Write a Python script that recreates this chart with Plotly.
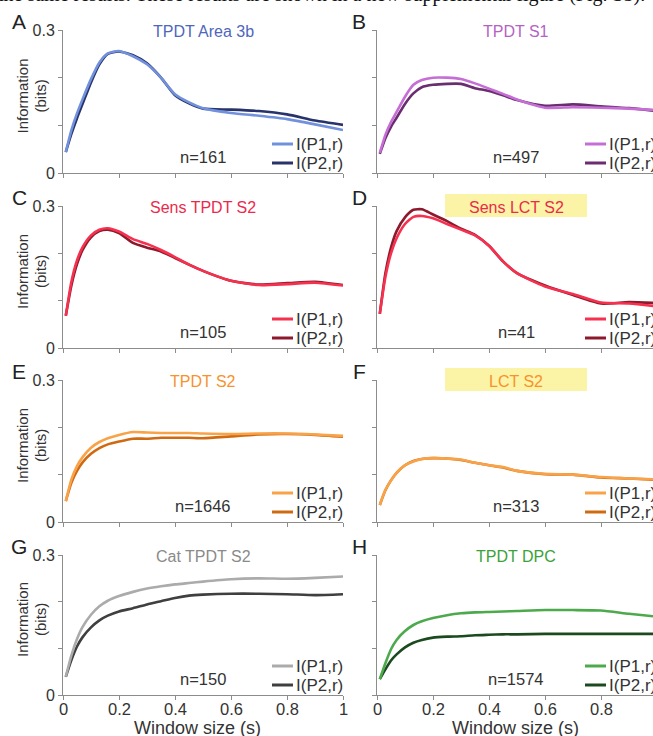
import plotly.graph_objects as go

W, H = 653, 736

# ---------------- data ----------------
window_s = [0.01, 0.03, 0.05, 0.07, 0.1, 0.13, 0.16, 0.2, 0.25, 0.3, 0.35, 0.4,
            0.45, 0.5, 0.6, 0.7, 0.8, 0.9, 1.0]

a_p1 = [0.044, 0.090, 0.125, 0.155, 0.197, 0.232, 0.251, 0.256, 0.245, 0.228, 0.200, 0.165,
        0.148, 0.136, 0.126, 0.120, 0.113, 0.102, 0.090]
a_p2 = [0.044, 0.082, 0.115, 0.145, 0.190, 0.228, 0.250, 0.255, 0.247, 0.230, 0.200, 0.163,
        0.146, 0.135, 0.133, 0.130, 0.123, 0.110, 0.101]

b_p1 = [0.042, 0.080, 0.107, 0.128, 0.160, 0.185, 0.195, 0.200, 0.200, 0.197, 0.188, 0.177,
        0.166, 0.154, 0.137, 0.138, 0.137, 0.135, 0.132]
b_p2 = [0.040, 0.073, 0.097, 0.116, 0.145, 0.167, 0.180, 0.185, 0.187, 0.187, 0.178, 0.172,
        0.163, 0.153, 0.141, 0.144, 0.140, 0.136, 0.130]

c_p1 = [0.068, 0.140, 0.185, 0.213, 0.238, 0.250, 0.253, 0.246, 0.230, 0.220, 0.207, 0.192,
        0.176, 0.163, 0.142, 0.133, 0.135, 0.138, 0.132]
c_p2 = [0.068, 0.132, 0.177, 0.207, 0.234, 0.247, 0.250, 0.243, 0.222, 0.212, 0.204, 0.190,
        0.176, 0.163, 0.142, 0.134, 0.137, 0.140, 0.133]

d_p1 = [0.072, 0.150, 0.200, 0.232, 0.262, 0.277, 0.279, 0.274, 0.262, 0.250, 0.238, 0.216,
        0.183, 0.158, 0.130, 0.114, 0.096, 0.094, 0.088]
d_p2 = [0.072, 0.158, 0.212, 0.247, 0.276, 0.292, 0.293, 0.282, 0.268, 0.252, 0.239, 0.216,
        0.183, 0.158, 0.132, 0.112, 0.094, 0.097, 0.095]

e_p1 = [0.044, 0.090, 0.118, 0.137, 0.157, 0.169, 0.177, 0.184, 0.190, 0.189, 0.188, 0.188,
        0.188, 0.187, 0.186, 0.187, 0.187, 0.185, 0.182]
e_p2 = [0.044, 0.083, 0.108, 0.126, 0.144, 0.156, 0.164, 0.170, 0.176, 0.176, 0.178, 0.178,
        0.178, 0.177, 0.181, 0.185, 0.186, 0.184, 0.180]

f_p1 = [0.036, 0.068, 0.088, 0.104, 0.120, 0.128, 0.133, 0.135, 0.134, 0.132, 0.125, 0.120,
        0.116, 0.108, 0.102, 0.100, 0.095, 0.092, 0.090]
f_p2 = [0.036, 0.067, 0.088, 0.104, 0.120, 0.129, 0.133, 0.135, 0.134, 0.131, 0.125, 0.120,
        0.115, 0.108, 0.101, 0.100, 0.094, 0.092, 0.089]

g_p1 = [0.039, 0.085, 0.120, 0.146, 0.172, 0.190, 0.202, 0.212, 0.221, 0.228, 0.233, 0.237,
        0.240, 0.243, 0.248, 0.250, 0.249, 0.251, 0.254]
g_p2 = [0.039, 0.075, 0.104, 0.124, 0.145, 0.160, 0.170, 0.179, 0.186, 0.194, 0.201, 0.208,
        0.213, 0.215, 0.217, 0.217, 0.216, 0.214, 0.216]

h_p1 = [0.034, 0.068, 0.098, 0.118, 0.137, 0.150, 0.158, 0.165, 0.171, 0.175, 0.177, 0.178,
        0.179, 0.180, 0.182, 0.182, 0.181, 0.174, 0.168]
h_p2 = [0.034, 0.055, 0.074, 0.087, 0.102, 0.112, 0.118, 0.123, 0.125, 0.126, 0.128, 0.129,
        0.130, 0.130, 0.131, 0.131, 0.131, 0.131, 0.131]

panel_letters = ["A", "B", "C", "D", "E", "F", "G", "H"]
panel_titles = ["TPDT Area 3b", "TPDT S1", "Sens TPDT S2", "Sens LCT S2",
                "TPDT S2", "LCT S2", "Cat TPDT S2", "TPDT DPC"]
panel_n = ["n=161", "n=497", "n=105", "n=41", "n=1646", "n=313", "n=150", "n=1574"]
series_p1 = [a_p1, b_p1, c_p1, d_p1, e_p1, f_p1, g_p1, h_p1]
series_p2 = [a_p2, b_p2, c_p2, d_p2, e_p2, f_p2, g_p2, h_p2]
legend_labels = ["I(P1,r)", "I(P2,r)"]
x_tick_vals = [0, 0.2, 0.4, 0.6, 0.8, 1.0]
x_tick_text = ["0", "0.2", "0.4", "0.6", "0.8", "1"]
y_tick_vals = [0, 0.1, 0.2, 0.3]
y_tick_text = ["0", "", "", "0.3"]
x_title = "Window size (s)"
y_title_lines = ["Information", "(bits)"]
top_text = "the same results. These results are shown in a new supplemental figure (Fig. S5)."

# ---------------- styles ----------------
title_colors = ["#4f66bd", "#b462c6", "#ea2a4c", "#ea2a4c", "#f7922c", "#f7922c", "#8a8a8a", "#3aa23a"]
p1_colors = ["#7291dc", "#c56ed6", "#f6304f", "#f6304f", "#f9a348", "#f9a348", "#ababab", "#4caa4c"]
p2_colors = ["#27336a", "#6a2d70", "#8c1a2c", "#8c1a2c", "#d06a12", "#d06a12", "#3f3f3f", "#1c4a1f"]
title_boxes = [None, None, None, "#fbf4a6", None, "#fbf4a6", None, None]

FONT = "Arial, 'Liberation Sans', sans-serif"
TXT = "#333333"
AX = "#8c8c8c"

# pixel geometry (from top-left)
col_x = [(63, 343, 1.0), (377, 653, (653 - 377) / 280.0)]
row_y = [(30, 173), (206, 348), (380, 522), (555, 695)]


def px(x):
    return x / W


def py(y):
    return 1 - y / H


fig = go.Figure()
annotations = []
shapes = []

for i in range(8):
    r, c = divmod(i, 2)
    x0, x1, xmax = col_x[c]
    top, bot = row_y[r]
    k = i + 1
    xa = "x" if k == 1 else f"x{k}"
    ya = "y" if k == 1 else f"y{k}"

    fig.add_trace(go.Scatter(x=window_s, y=series_p2[i], mode="lines", xaxis=xa, yaxis=ya,
                             line=dict(color=p2_colors[i], width=2.6, shape="spline", smoothing=0.6),
                             showlegend=False, hoverinfo="skip"))
    fig.add_trace(go.Scatter(x=window_s, y=series_p1[i], mode="lines", xaxis=xa, yaxis=ya,
                             line=dict(color=p1_colors[i], width=2.6, shape="spline", smoothing=0.6),
                             showlegend=False, hoverinfo="skip"))

    bottom_row = (r == 3)
    fig.layout[("xaxis" if k == 1 else f"xaxis{k}")] = dict(
        domain=[px(x0), px(x1)], range=[0, xmax], anchor=ya, automargin=False,
        showline=True, linecolor=AX, linewidth=1, showgrid=False, zeroline=False,
        ticks="outside", ticklen=4, tickcolor=AX, tickwidth=1,
        tickvals=x_tick_vals, showticklabels=False,
    )
    fig.layout[("yaxis" if k == 1 else f"yaxis{k}")] = dict(
        domain=[py(bot), py(top)], range=[0, 0.3], anchor=xa, automargin=False,
        showline=True, linecolor=AX, linewidth=1, showgrid=False, zeroline=False,
        ticks="outside", ticklen=4, tickcolor=AX, tickwidth=1,
        tickvals=y_tick_vals, ticktext=y_tick_text, showticklabels=(c == 0),
        tickfont=dict(family=FONT, size=16, color=TXT),
    )

    # x tick labels (bottom row only), placed on the axis scale
    if bottom_row:
        for tv, tt in zip(x_tick_vals, x_tick_text):
            if tv <= xmax:
                annotations.append(dict(text=tt, xref=xa, yref="paper", x=tv, y=py(709),
                                        showarrow=False, xanchor="center", yanchor="middle",
                                        font=dict(family=FONT, size=16.5, color=TXT)))

    # panel letter
    annotations.append(dict(text=panel_letters[i], xref="paper", yref="paper",
                            x=px(19 if c == 0 else 359), y=py(top - 9), showarrow=False,
                            xanchor="center", yanchor="middle",
                            font=dict(family=FONT, size=21, color="#222222")))
    # title
    tx = 203 if c == 0 else 516
    annotations.append(dict(text=panel_titles[i], xref="paper", yref="paper", x=px(tx), y=py(top + 1),
                            showarrow=False, xanchor="center", yanchor="middle",
                            font=dict(family=FONT, size=16, color=title_colors[i])))
    if title_boxes[i]:
        shapes.append(dict(type="rect", xref="paper", yref="paper",
                           x0=px(445), x1=px(587), y0=py(top + 11), y1=py(top - 12),
                           fillcolor=title_boxes[i], line=dict(width=0), layer="below"))
    # n label
    annotations.append(dict(text=panel_n[i], xref="paper", yref="paper",
                            x=px(203 if c == 0 else 516), y=py(bot - 16), showarrow=False,
                            xanchor="center", yanchor="middle",
                            font=dict(family=FONT, size=16.5, color=TXT)))
    # legend
    lx0 = 272 if c == 0 else 585
    for j, (lab, col) in enumerate(zip(legend_labels, [p1_colors[i], p2_colors[i]])):
        ly = bot - 29 + j * 19
        shapes.append(dict(type="line", xref="paper", yref="paper",
                           x0=px(lx0), x1=px(lx0 + 21), y0=py(ly), y1=py(ly),
                           line=dict(color=col, width=3)))
        annotations.append(dict(text=lab, xref="paper", yref="paper",
                                x=px(lx0 + 22), y=py(ly), showarrow=False,
                                xanchor="left", yanchor="middle",
                                font=dict(family=FONT, size=17, color=TXT)))
    # axis titles
    if c == 0:
        for j, (line_txt, lxp) in enumerate(zip(y_title_lines, [22, 40])):
            annotations.append(dict(text=line_txt, xref="paper", yref="paper",
                                    x=px(lxp), y=py((top + bot) / 2 - 5), showarrow=False,
                                    textangle=-90, xanchor="center", yanchor="middle",
                                    font=dict(family=FONT, size=15, color=TXT)))
    if bottom_row:
        annotations.append(dict(text=x_title, xref="paper", yref="paper",
                                x=px((x0 + x1) / 2 - 6 if c == 0 else (x0 + 653) / 2), y=py(728),
                                showarrow=False, xanchor="center", yanchor="middle",
                                font=dict(family=FONT, size=18, color=TXT)))

# cropped line of running text at the very top
annotations.append(dict(text=top_text, xref="paper", yref="paper", x=px(-4), y=py(8), showarrow=False,
                        xanchor="left", yanchor="bottom",
                        font=dict(family="'Liberation Serif', 'Times New Roman', serif", size=20,
                                  color="#111111")))

fig.update_layout(template="none", width=W, height=H, margin=dict(l=0, r=0, t=0, b=0, autoexpand=False),
                  paper_bgcolor="white", plot_bgcolor="white",
                  annotations=annotations, shapes=shapes,
                  font=dict(family=FONT, color=TXT))

fig.write_html("out.html", config={"displayModeBar": False},
               post_script="document.body.style.margin='0';document.body.style.overflow='hidden';")
